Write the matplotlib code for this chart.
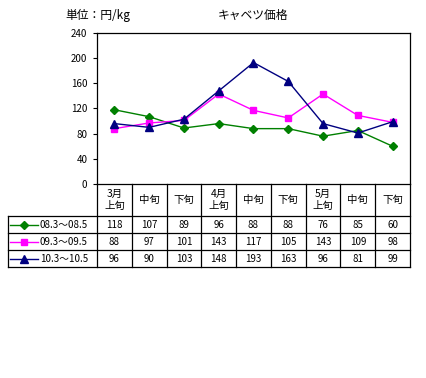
import matplotlib

matplotlib.use("Agg")
import matplotlib.pyplot as plt

plt.rcParams["font.family"] = ["Noto Sans CJK JP", "DejaVu Sans"]

# data
categories = ["3月\n上旬", "中旬", "下旬", "4月\n上旬", "中旬", "下旬", "5月\n上旬", "中旬", "下旬"]
series_names = ["08.3〜08.5", "09.3〜09.5", "10.3〜10.5"]
s08 = [118, 107, 89, 96, 88, 88, 76, 85, 60]
s09 = [88, 97, 101, 143, 117, 105, 143, 109, 98]
s10 = [96, 90, 103, 148, 193, 163, 96, 81, 99]
yticks = [0, 40, 80, 120, 160, 200, 240]

styles = [("#008000", "D", 4), ("#FF00FF", "s", 5), ("#000080", "^", 6)]
values = [s08, s09, s10]

W, H = 426, 378
fig = plt.figure(figsize=(W / 100, H / 100), dpi=100)

# plot area in pixels
x0, x1, ytop, ybot = 97, 410, 33, 184
ax = fig.add_axes([x0 / W, 1 - ybot / H, (x1 - x0) / W, (ybot - ytop) / H])
xs = list(range(len(categories)))
for vals, (c, m, ms) in zip(values, styles):
    ax.plot(xs, vals, color=c, marker=m, ms=ms, lw=1.0)
ax.set_xlim(-0.5, len(categories) - 0.5)
ax.set_ylim(0, 240)
ax.set_yticks(yticks)
ax.set_xticks([])
ax.tick_params(axis="y", length=3, width=0.8, labelsize=7, pad=4)
for sp in ax.spines.values():
    sp.set_linewidth(0.9)

fig.text(65 / W, 1 - 15 / H, "単位：円/kg", fontsize=8.5, va="center")
fig.text(253 / W, 1 - 15 / H, "キャベツ価格", fontsize=8.5, va="center", ha="center")

# data table below the plot
tl, ty0, ty1 = 8, 184, 267
rows = [184, 216, 233, 250, 267]
tax = fig.add_axes([tl / W, 1 - ty1 / H, (x1 - tl) / W, (ty1 - ty0) / H])
tax.set_xlim(tl, x1)
tax.set_ylim(ty1, ty0)
tax.axis("off")
colw = (x1 - x0) / len(categories)
edges = [x0 + i * colw for i in range(len(categories) + 1)]
lk = dict(color="black", lw=0.9, clip_on=False)
for e in edges:
    tax.plot([e, e], [ty0, ty1], **lk)
tax.plot([tl, tl], [rows[1], ty1], **lk)
for r in rows[1:]:
    tax.plot([tl, x1], [r, r], **lk)

for i, cat in enumerate(categories):
    cx = (edges[i] + edges[i + 1]) / 2
    tax.text(cx, (rows[0] + rows[1]) / 2, cat, ha="center", va="center",
             fontsize=7.5, linespacing=1.3)
for j, (name, vals, (c, m, ms)) in enumerate(zip(series_names, values, styles)):
    cy = (rows[j + 1] + rows[j + 2]) / 2
    tax.plot([10, 38], [cy, cy], color=c, lw=1.0, clip_on=False)
    tax.plot([24], [cy], color=c, marker=m, ms=ms, clip_on=False)
    tax.text(40, cy, name, ha="left", va="center", fontsize=7)
    for i, v in enumerate(vals):
        cx = (edges[i] + edges[i + 1]) / 2
        tax.text(cx, cy, str(v), ha="center", va="center", fontsize=7)

fig.savefig("out.png", dpi=100)
